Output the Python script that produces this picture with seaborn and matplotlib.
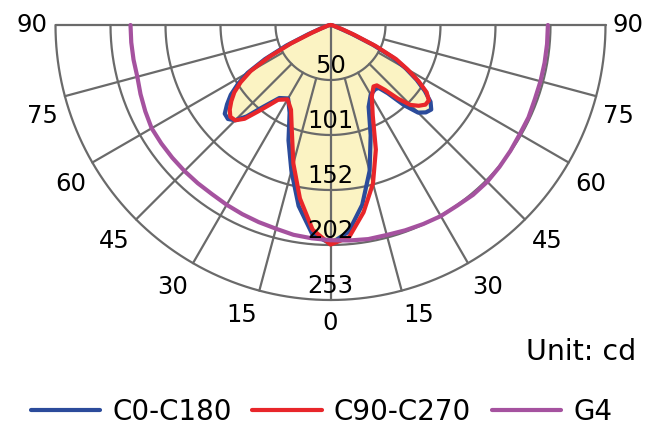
import numpy as np
import pandas as pd
import seaborn as sns
import matplotlib.pyplot as plt

# gamma angles (deg from nadir), read on both halves of each plane
angles = [0, 5, 10, 15, 20, 25, 30, 35, 37.5, 40, 42.5, 45, 47.5, 50,
          52.5, 55, 57.5, 60, 62.5, 65, 67.5, 70, 80, 90]

c0_left = [201, 193, 169, 139, 113, 89, 78, 82, 90, 100, 114, 124, 128, 127,
           120, 112, 101, 88, 68, 45, 22, 10, 2, 0]
c0_right = [201, 191, 168, 139, 108, 83, 74, 72, 73, 82, 100, 114, 119, 121,
            116, 106, 94, 80, 65, 43, 21, 9, 2, 0]
c90_left = [202, 189, 162, 132, 104, 86, 79, 84, 93, 104, 117, 124, 125, 121,
            115, 108, 98, 85, 64, 40, 18, 8, 2, 0]
c90_right = [202, 196, 175, 151, 122, 92, 76, 69, 70, 78, 92, 104, 110, 114,
             114, 108, 96, 82, 68, 46, 24, 12, 2, 0]

g4_angles = list(range(0, 95, 5))
g4_left = [198, 197, 196, 194, 193, 192, 191, 190, 190, 190, 190, 190, 190, 188, 186, 184, 184, 184, 184]
g4_right = [198, 199, 200, 200, 201, 202, 203, 203, 204, 204, 203, 202, 201, 201, 200, 200, 200, 200, 200]

ring_labels = ['50', '101', '152', '202', '253']
angle_ticks = [0, 15, 30, 45, 60, 75, 90]

R_MAX = 253
BLUE = '#2b4b9b'
RED = '#e8262a'
PURPLE = '#a5529f'
GRID = '#6a6a6a'
FILL = '#fbf3c3'


def to_xy(theta_deg, r):
    t = np.radians(theta_deg)
    return r * np.sin(t), -r * np.cos(t)


def full_curve(ang, left, right):
    ang = np.asarray(ang, dtype=float)
    theta = np.concatenate([-ang[::-1], ang[1:]])
    r = np.concatenate([np.asarray(left)[::-1], np.asarray(right)[1:]])
    x, y = to_xy(theta, r)
    return pd.DataFrame({'x': x, 'y': y})


def main():
    sns.set_theme(style='white')
    plt.rcParams['font.family'] = ['DejaVu Sans']
    plt.rcParams['text.color'] = 'black'

    px = R_MAX / 275.0  # cd per pixel
    fig = plt.figure(figsize=(6.6, 4.3), dpi=100)
    ax = fig.add_axes([0, 0, 1, 1])
    ax.set_xlim(-330.5 * px, 329.5 * px)
    ax.set_ylim(-405 * px, 25 * px)
    ax.axis('off')

    c0 = full_curve(angles, c0_left, c0_right)
    c90 = full_curve(angles, c90_left, c90_right)
    g4 = full_curve(g4_angles, g4_left, g4_right)

    ax.fill(c0['x'], c0['y'], color=FILL, lw=0, zorder=1)
    ax.fill(c90['x'], c90['y'], color=FILL, lw=0, zorder=1)

    # grid: rings, spokes, horizontal top line
    rings = [R_MAX * (i + 1) / 5 for i in range(5)]
    arc = np.linspace(-90, 90, 361)
    for r in rings:
        x, y = to_xy(arc, r)
        ax.plot(x, y, color=GRID, lw=1.6, zorder=2)
    ax.plot([-R_MAX, R_MAX], [0, 0], color=GRID, lw=1.6, zorder=2)
    ax.plot([0, 0], [0, -R_MAX], color=GRID, lw=1.6, zorder=2)
    for a in [15, 30, 45, 60, 75]:
        for s in (-1, 1):
            x, y = to_xy(np.array([s * a, s * a]), np.array([rings[0], R_MAX]))
            ax.plot(x, y, color=GRID, lw=1.6, zorder=2)

    sns.lineplot(data=c0, x='x', y='y', sort=False, estimator=None, color=BLUE,
                 lw=3, ax=ax, label='C0-C180', zorder=3)
    sns.lineplot(data=c90, x='x', y='y', sort=False, estimator=None, color=RED,
                 lw=3, ax=ax, label='C90-C270', zorder=3)
    sns.lineplot(data=g4, x='x', y='y', sort=False, estimator=None, color=PURPLE,
                 lw=3, ax=ax, label='G4', zorder=3)

    # ring values along the vertical axis
    for r, lab in zip(rings, ring_labels):
        ax.text(0, -(r - 14 * px), lab, ha='center', va='center', fontsize=17.5,
                color='black', zorder=4)

    # angle labels outside the outer ring
    lab_ang = [0, 17, 31, 45, 58.5, 72.5, 90]
    lab_rad = [298, 303, 306, 306, 305, 302, 298]
    for tick, la, lr in zip(angle_ticks, lab_ang, lab_rad):
        for s in ((1,) if tick == 0 else (-1, 1)):
            x, y = to_xy(s * la, lr * px)
            ax.text(x, y, str(tick), ha='center', va='center', fontsize=17.5, color='black')

    fig.text(636 / 660, 1 - 352 / 430, 'Unit: cd', ha='right', va='center',
             fontsize=20.5, color='black')

    handles, labels = ax.get_legend_handles_labels()
    ax.get_legend().remove()
    fig.legend(handles, labels, loc='center', bbox_to_anchor=(0.487, 1 - 412 / 430),
               ncol=3, frameon=False, fontsize=20, handlelength=2.5,
               handletextpad=0.43, columnspacing=0.75, labelcolor='black')

    fig.savefig('out.png', dpi=100)


if __name__ == '__main__':
    main()
